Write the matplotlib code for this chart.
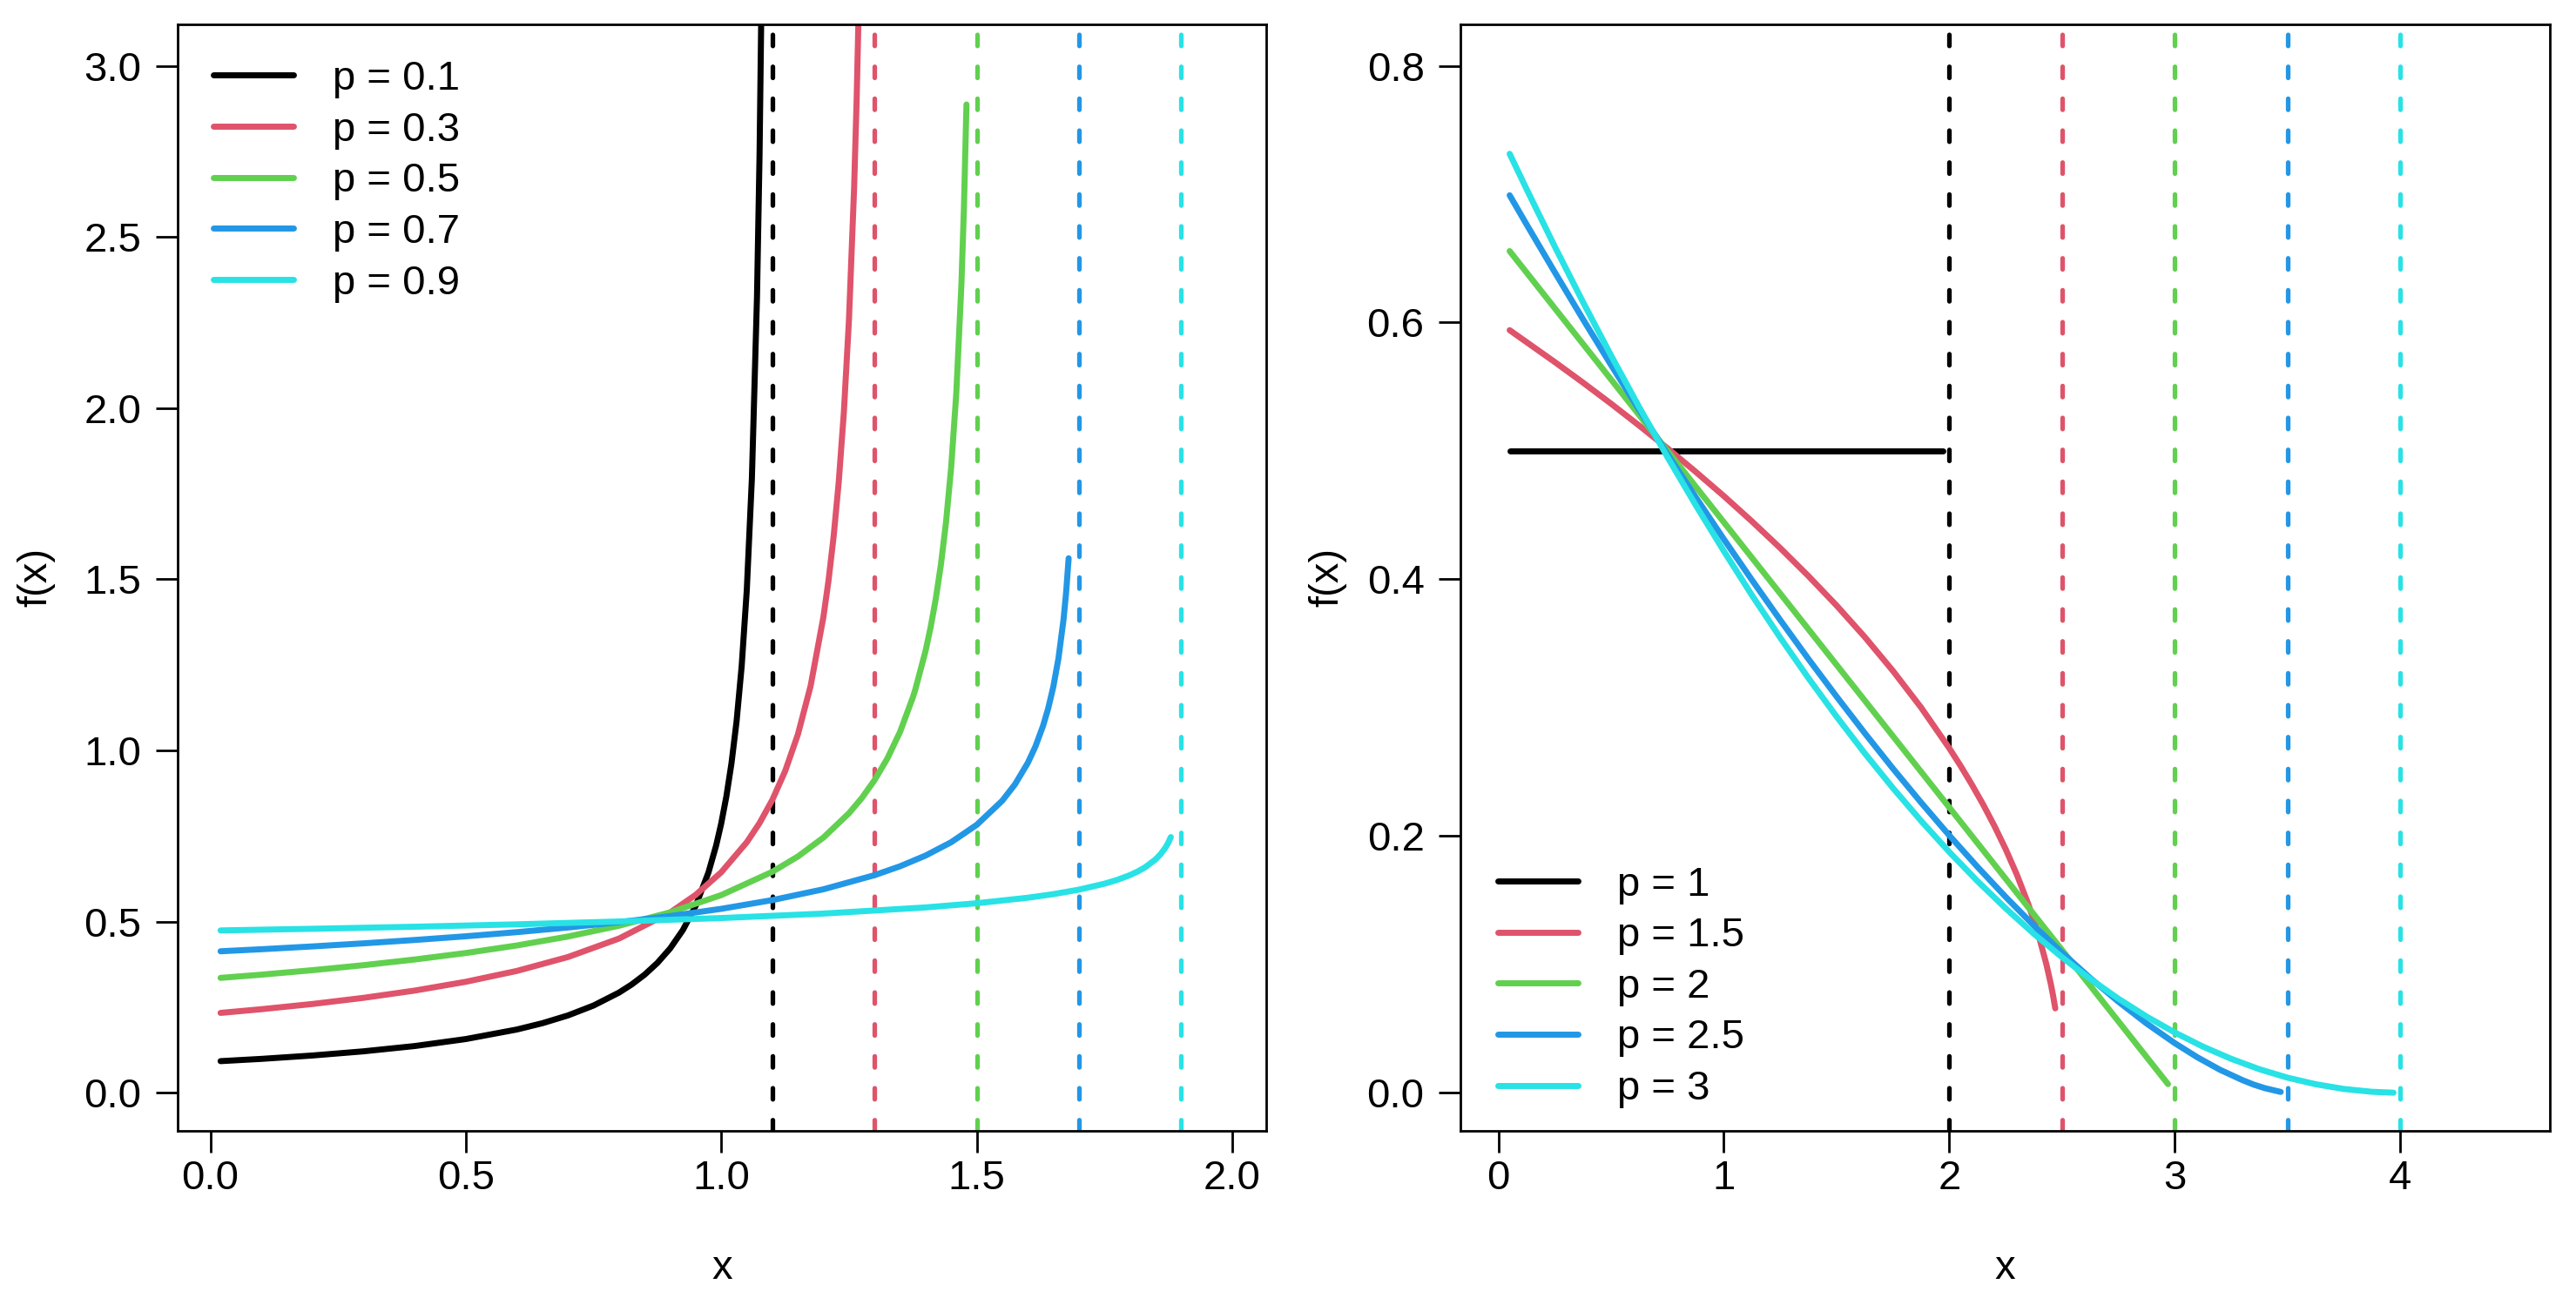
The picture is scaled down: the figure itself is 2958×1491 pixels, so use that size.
import matplotlib
matplotlib.use('Agg')
import matplotlib.pyplot as plt

plt.rcParams['font.family'] = ['Liberation Sans', 'DejaVu Sans']
plt.rcParams['font.size'] = 17
plt.rcParams['lines.scale_dashes'] = False

colours = ['#000000', '#DF536B', '#61D04F', '#2297E6', '#28E2E5']

# left panel: p < 1, density
left_labels = ['p = 0.1', 'p = 0.3', 'p = 0.5', 'p = 0.7', 'p = 0.9']
left_bounds = [1.1, 1.3, 1.5, 1.7, 1.9]

x_p01 = [0.02, 0.1, 0.2, 0.3, 0.4, 0.5, 0.6, 0.65, 0.7, 0.75, 0.8, 0.825, 0.85,
         0.875, 0.9, 0.925, 0.95, 0.975, 0.99, 1.0, 1.01, 1.02, 1.03, 1.04, 1.05,
         1.06, 1.07, 1.075, 1.08]
f_p01 = [0.0924, 0.0990, 0.1089, 0.1211, 0.1365, 0.1569, 0.1848, 0.2032, 0.2259,
         0.2548, 0.2927, 0.3166, 0.3449, 0.3792, 0.4216, 0.4755, 0.5462, 0.6436,
         0.7221, 0.7868, 0.8651, 0.9618, 1.0846, 1.2461, 1.468, 1.7947, 2.325,
         2.740, 3.349]

x_p03 = [0.02, 0.1, 0.2, 0.3, 0.4, 0.5, 0.6, 0.7, 0.8, 0.9, 0.95, 1.0, 1.05, 1.075,
         1.1, 1.125, 1.15, 1.175, 1.2, 1.21, 1.22, 1.23, 1.24, 1.25, 1.26, 1.265,
         1.27, 1.28]
f_p03 = [0.2333, 0.2441, 0.2594, 0.2773, 0.2985, 0.3242, 0.3559, 0.3965, 0.4505,
         0.5266, 0.5782, 0.6441, 0.7318, 0.7878, 0.8555, 0.9393, 1.0464, 1.1888,
         1.3898, 1.4962, 1.6248, 1.7840, 1.9871, 2.2577, 2.6393, 2.8980, 3.228,
         4.2874]

x_p05 = [0.02, 0.1, 0.2, 0.3, 0.4, 0.5, 0.6, 0.7, 0.8, 0.9, 1.0, 1.1, 1.15, 1.2,
         1.25, 1.275, 1.3, 1.325, 1.35, 1.375, 1.38, 1.4, 1.41, 1.42, 1.43, 1.44,
         1.45, 1.46, 1.47, 1.475, 1.48]
f_p05 = [0.3356, 0.3450, 0.3581, 0.3727, 0.3893, 0.4082, 0.4303, 0.4564, 0.4880,
         0.5270, 0.5774, 0.6455, 0.6901, 0.7454, 0.8165, 0.8607, 0.9129, 0.9759,
         1.0541, 1.1547, 1.1785, 1.2910, 1.3608, 1.4434, 1.5430, 1.6667, 1.8257,
         2.0412, 2.3570, 2.5820, 2.8868]

x_p07 = [0.02, 0.1, 0.2, 0.3, 0.4, 0.5, 0.6, 0.7, 0.8, 0.9, 1.0, 1.1, 1.2, 1.3,
         1.35, 1.4, 1.45, 1.5, 1.55, 1.575, 1.6, 1.615, 1.63, 1.64, 1.65, 1.66,
         1.67, 1.675, 1.68]
f_p07 = [0.4133, 0.4193, 0.4275, 0.4365, 0.4463, 0.4571, 0.4692, 0.4828, 0.4983,
         0.5162, 0.5373, 0.5628, 0.5944, 0.6356, 0.6616, 0.6929, 0.7318, 0.7825,
         0.8530, 0.9010, 0.9634, 1.0115, 1.0722, 1.1229, 1.1860, 1.2682, 1.3824,
         1.4602, 1.5613]

x_p09 = [0.02, 0.2, 0.4, 0.6, 0.8, 1.0, 1.2, 1.4, 1.5, 1.6, 1.65, 1.7, 1.75, 1.775,
         1.8, 1.815, 1.83, 1.85, 1.86, 1.87, 1.875, 1.88]
f_p09 = [0.4742, 0.4790, 0.4850, 0.4920, 0.5003, 0.5104, 0.5234, 0.5414, 0.5536,
         0.5697, 0.5802, 0.5933, 0.6106, 0.6218, 0.6358, 0.6463, 0.6589, 0.6815,
         0.6969, 0.7172, 0.7304, 0.7469]

# right panel: p >= 1
right_labels = ['p = 1', 'p = 1.5', 'p = 2', 'p = 2.5', 'p = 3']
right_bounds = [2.0, 2.5, 3.0, 3.5, 4.0]

x_p1 = [0.05, 1.97]
f_p1 = [0.5, 0.5]

x_p15 = [0.05, 0.25, 0.375, 0.5, 0.625, 0.75, 0.875, 1.0, 1.125, 1.25, 1.375, 1.5,
         1.625, 1.75, 1.875, 2.0, 2.05, 2.1, 2.15, 2.2, 2.25, 2.3, 2.35, 2.38, 2.4,
         2.43, 2.45, 2.46, 2.47]
f_p15 = [0.5940, 0.5692, 0.5532, 0.5367, 0.5196, 0.5020, 0.4837, 0.4648, 0.4450,
         0.4243, 0.4025, 0.3795, 0.3550, 0.3286, 0.3000, 0.2683, 0.2546, 0.2400,
         0.2245, 0.2078, 0.1897, 0.1697, 0.1470, 0.1315, 0.1200, 0.1004, 0.0849,
         0.0759, 0.0657]

x_p2 = [0.05, 1.0, 2.0, 2.97]
f_p2 = [0.6556, 0.4444, 0.2222, 0.0067]

x_p25 = [0.05, 0.125, 0.25, 0.375, 0.5, 0.625, 0.75, 0.875, 1.0, 1.125, 1.25, 1.375,
         1.5, 1.625, 1.75, 1.875, 2.0, 2.125, 2.25, 2.375, 2.5, 2.625, 2.75, 2.875,
         3.0, 3.1, 3.2, 3.3, 3.35, 3.4, 3.47]
f_p25 = [0.6991, 0.6764, 0.6392, 0.6026, 0.5668, 0.5318, 0.4975, 0.4640, 0.4312,
         0.3993, 0.3682, 0.3379, 0.3086, 0.2801, 0.2525, 0.2260, 0.2004, 0.1759,
         0.1525, 0.1302, 0.1091, 0.0893, 0.0709, 0.0539, 0.0386, 0.0276, 0.0179,
         0.0098, 0.0063, 0.0035, 0.0006]

x_p3 = [0.05, 0.125, 0.25, 0.375, 0.5, 0.625, 0.75, 0.875, 1.0, 1.125, 1.25, 1.375,
        1.5, 1.625, 1.75, 1.875, 2.0, 2.125, 2.25, 2.375, 2.5, 2.625, 2.75, 2.875,
        3.0, 3.125, 3.25, 3.375, 3.5, 3.625, 3.75, 3.875, 3.97]
f_p3 = [0.7314, 0.7039, 0.6592, 0.6160, 0.5742, 0.5339, 0.4951, 0.4578, 0.4219,
        0.3874, 0.3545, 0.3230, 0.2930, 0.2644, 0.2373, 0.2117, 0.1875, 0.1648,
        0.1436, 0.1238, 0.1055, 0.0886, 0.0732, 0.0593, 0.0469, 0.0359, 0.0264,
        0.0183, 0.0117, 0.0066, 0.0029, 0.0007, 0.0000]

left_x_ticks = [0.0, 0.5, 1.0, 1.5, 2.0]
left_x_ticklabels = ['0.0', '0.5', '1.0', '1.5', '2.0']
left_y_ticks = [0.0, 0.5, 1.0, 1.5, 2.0, 2.5, 3.0]
left_y_ticklabels = ['0.0', '0.5', '1.0', '1.5', '2.0', '2.5', '3.0']
right_x_ticks = [0, 1, 2, 3, 4]
right_x_ticklabels = ['0', '1', '2', '3', '4']
right_y_ticks = [0.0, 0.2, 0.4, 0.6, 0.8]
right_y_ticklabels = ['0.0', '0.2', '0.4', '0.6', '0.8']

left_series = [(x_p01, f_p01), (x_p03, f_p03), (x_p05, f_p05), (x_p07, f_p07), (x_p09, f_p09)]
right_series = [(x_p1, f_p1), (x_p15, f_p15), (x_p2, f_p2), (x_p25, f_p25), (x_p3, f_p3)]

fig = plt.figure(figsize=(14.79, 7.455), dpi=200)
ax1 = fig.add_axes([0.0689, 0.1291, 0.4228, 0.8519])
ax2 = fig.add_axes([0.567, 0.1291, 0.4228, 0.8519])


def panel(ax, series, bounds, labels, xt, xtl, yt, ytl, xlim, ylim, legloc, anchor, ylab_x):
    for (xs, ys), b, c, lab in zip(series, bounds, colours, labels):
        ax.plot(xs, ys, color=c, lw=2.5, solid_capstyle='round',
                solid_joinstyle='round', label=lab)
        ax.axvline(b, color=c, lw=1.9, ls=(0, (4.6, 8.6)), dash_capstyle='round')
    ax.set_xlim(*xlim)
    ax.set_ylim(*ylim)
    ax.set_xticks(xt, xtl)
    ax.set_yticks(yt, ytl)
    ax.tick_params(direction='out', length=9, width=1.0)
    ax.tick_params(axis='x', pad=3)
    ax.tick_params(axis='y', pad=6)
    for s in ax.spines.values():
        s.set_linewidth(1.0)
    ax.text(0.5, -0.134, 'x', transform=ax.transAxes, ha='center', va='baseline')
    ax.text(ylab_x, 0.5, 'f(x)', transform=ax.transAxes, ha='center', va='center',
            rotation=90)
    ax.legend(loc=legloc, bbox_to_anchor=anchor, frameon=False, borderpad=0,
              borderaxespad=0, handlelength=1.95, handletextpad=0.95, labelspacing=0.31)


panel(ax1, left_series, left_bounds, left_labels, left_x_ticks, left_x_ticklabels,
      left_y_ticks, left_y_ticklabels, (-0.0643, 2.0675), (-0.110, 3.12),
      'upper left', (0.033, 0.968), -0.1297)
panel(ax2, right_series, right_bounds, right_labels, right_x_ticks, right_x_ticklabels,
      right_y_ticks, right_y_ticklabels, (-0.1676, 4.663), (-0.0294, 0.832),
      'lower left', (0.034, 0.020), -0.122)

fig.savefig('out.png', dpi=200)
